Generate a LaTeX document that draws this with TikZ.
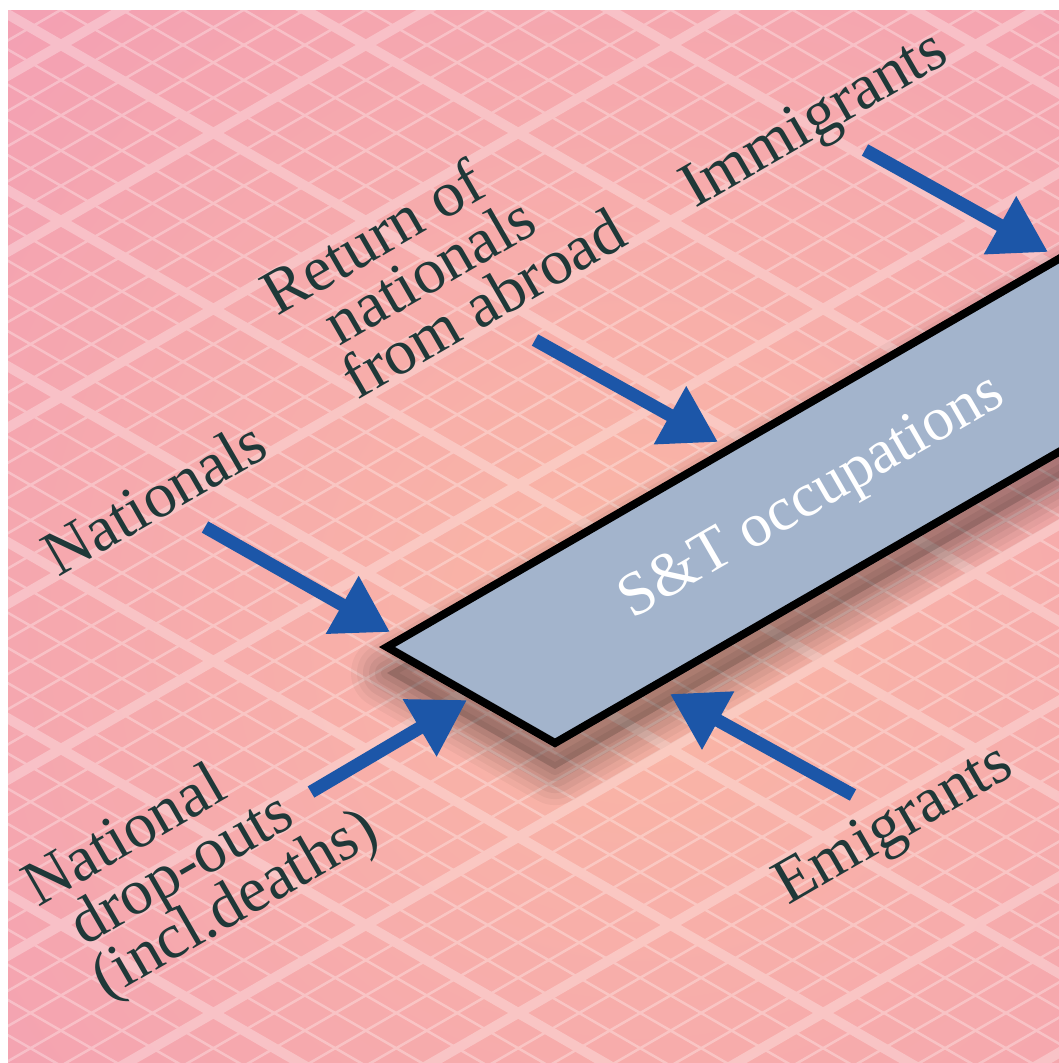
\documentclass[tikz,border=0pt]{standalone}
\usepackage{fontspec}
\setmainfont{Liberation Serif}
\usetikzlibrary{arrows.meta}
\definecolor{bgpink}{HTML}{F29CB6}
\definecolor{bgpeach}{HTML}{FAB7A4}
\definecolor{boxfill}{HTML}{A3B4CC}
\definecolor{arrowblue}{HTML}{1C56A8}
\definecolor{labelink}{HTML}{1F3838}
\begin{document}
\begin{tikzpicture}[x=1pt,y=-1pt,
  minorline/.style={white,line width=2.5pt},
  majorline/.style={white,line width=10pt},
  lbl/.style={text=labelink,font=\fontsize{64}{64}\selectfont,rotate=30,anchor=base,inner sep=0pt},
  boxlbl/.style={text=white,font=\fontsize{62}{62}\selectfont,rotate=30,anchor=base,inner sep=0pt},
  flow/.style={arrowblue,line width=13pt,-{Triangle[length=55pt,width=63pt]}},
  shadowlayer/.style={black,line join=round}]
\useasboundingbox (0,0) rectangle (1059,1063);
\fill[white] (0,0) rectangle (1059,1063);
\begin{scope}
  \clip (8,10) rectangle (1059,1063);
  % paper background with a warm glow around the box
  \fill[bgpink] (8,10) rectangle (1059,1063);
  \shade[inner color=bgpeach, outer color=bgpink] (640,630) circle (1050);
  % isometric grid: fine lines and every fifth line heavy
  \begin{scope}[transparency group, opacity=0.3]
    \foreach \k in {-18,...,31} {
      \pgfmathsetmacro\a{9.8+\k*35.2}
      \draw[minorline] (-20,{\a-0.57735*20}) -- (1100,{\a+0.57735*1100});
    }
    \foreach \k in {-3,...,46} {
      \pgfmathsetmacro\b{80.2+\k*35.2}
      \draw[minorline] (-20,{\b+0.57735*20}) -- (1100,{\b-0.57735*1100});
    }
    \foreach \m in {-4,...,6} {
      \pgfmathsetmacro\a{9.8+\m*176}
      \draw[majorline] (-20,{\a-0.57735*20}) -- (1100,{\a+0.57735*1100});
    }
    \foreach \m in {-1,...,9} {
      \pgfmathsetmacro\b{80.2+\m*176}
      \draw[majorline] (-20,{\b+0.57735*20}) -- (1100,{\b-0.57735*1100});
    }
  \end{scope}
  % soft shadow cast below the box
  \begin{scope}[shift={(0,26)}]
    \fill[black,opacity=0.16] (387,647) -- (555,743) -- (1334,293) -- (1166,197) -- cycle;
    \foreach \w/\o in {72/0.04, 60/0.04, 48/0.05, 36/0.05, 24/0.06, 12/0.06} {
      \draw[shadowlayer,opacity=\o,line width=\w pt]
        (387,647) -- (555,743) -- (1334,293) -- (1166,197) -- cycle;
    }
  \end{scope}
  % the occupations box
  \draw[line width=8pt, line join=miter, fill=boxfill]
    (387,647) -- (555,743) -- (1334,293) -- (1166,197) -- cycle;
  \node[boxlbl] (stbox) at (820,511) {S\&T occupations};

  % flows into and out of the box
  \coordinate (immS) at (865,150);  \coordinate (immT) at (1048,252);
  \coordinate (retS) at (535,340);  \coordinate (retT) at (718,442);
  \coordinate (natS) at (205,527);  \coordinate (natT) at (390,632);
  \coordinate (dropS) at (311,792); \coordinate (dropT) at (467,700);
  \coordinate (emiS) at (853,795);  \coordinate (emiT) at (670,694);
  \draw[flow] (immS) -- (immT);
  \draw[flow] (retS) -- (retT);
  \draw[flow] (natS) -- (natT);
  \draw[flow] (dropS) -- (dropT);
  \draw[flow] (emiS) -- (emiT);

  % labels
  \node[lbl] (immig) at (823,135) {Immigrants};
  \node[lbl] (natls) at (165,516) {Nationals};
  \node[lbl] (emig) at (902,840) {Emigrants};
  \node[lbl] (ret1) at (383,256) {Return of};
  \node[lbl] (ret2) at (440,289) {nationals};
  \node[lbl] (ret3) at (494,322) {from abroad};
  \node[lbl] (drop1) at (134,852) {National};
  \node[lbl] (drop2) at (191,885) {drop-outs};
  \node[lbl] (drop3) at (244,920) {(incl.deaths)};
\end{scope}
\end{tikzpicture}
\end{document}
